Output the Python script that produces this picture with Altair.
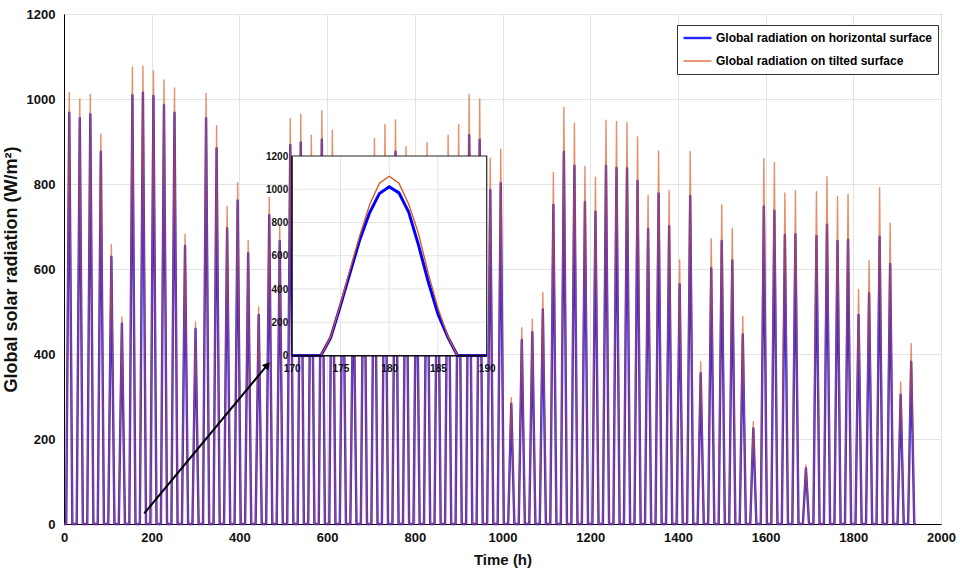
import altair as alt
import pandas as pd

# ---------------- data ----------------
# daily peak (solar noon, hour 12 of each day) of the two series, 81 days
horiz_peak = [968, 955, 964, 876, 629, 472, 1009, 1015, 1007, 986,
              968, 654, 459, 955, 884, 696, 761, 637, 492, 727,
              666, 892, 898, 850, 905, 862, 740, 610, 800, 845,
              860, 876, 828, 700, 838, 790, 852, 862, 915, 904,
              786, 802, 283, 433, 451, 505, 751, 876, 843, 758,
              735, 843, 838, 837, 807, 694, 778, 701, 564, 772,
              355, 602, 666, 620, 446, 225, 747, 737, 680, 682,
              131, 678, 704, 666, 669, 492, 543, 676, 612, 304,
              382]
tilt_peak = [1015, 1000, 1011, 918, 658, 487, 1075, 1078, 1066, 1045,
             1026, 682, 476, 1013, 937, 747, 803, 667, 511, 769,
             700, 954, 964, 915, 973, 927, 790, 650, 850, 907,
             940, 951, 888, 750, 897, 845, 915, 940, 1011, 1000,
             861, 882, 297, 462, 482, 544, 827, 980, 943, 842,
             816, 950, 947, 944, 911, 773, 878, 785, 621, 876,
             382, 671, 751, 696, 489, 241, 860, 850, 779, 784,
             139, 782, 817, 770, 776, 552, 620, 791, 708, 334,
             425]
day_hours = 24
last_dark_hour = 5     # last zero value before sunrise (from the inset)
noon_hour = 12
first_dark_hour = 19   # first zero value after sunset (from the inset)
last_hour = 1943

# inset: hours 170..190
inset_hours = list(range(170, 191))
inset_horiz = [0, 0, 0, 0, 108, 300, 500, 700, 860, 975, 1015,
               978, 862, 665, 445, 250, 112, 0, 0, 0, 0]
inset_tilt = [0, 0, 0, 0, 112, 310, 520, 725, 908, 1036, 1078,
              1036, 910, 735, 495, 285, 118, 0, 0, 0, 0]
inset_xticks = [170, 175, 180, 185, 190]
inset_yticks = [0, 200, 400, 600, 800, 1000, 1200]

main_xticks = list(range(0, 2001, 200))
main_yticks = list(range(0, 1201, 200))

arrow_start = (183, 25)
arrow_end = (462, 372)

S_H = "Global radiation on horizontal surface"
S_T = "Global radiation on tilted surface"

# ---------------- tables ----------------
rows = []
for name, peaks in ((S_H, horiz_peak), (S_T, tilt_peak)):
    rows.append({"hour": 0, "value": 0, "series": name})
    for d, p in enumerate(peaks):
        base = d * day_hours
        rows.append({"hour": base + last_dark_hour, "value": 0, "series": name})
        rows.append({"hour": base + noon_hour, "value": p, "series": name})
        rows.append({"hour": base + first_dark_hour, "value": 0, "series": name})
    rows.append({"hour": last_hour, "value": 0, "series": name})
main_df = pd.DataFrame(rows)

inset_df = pd.DataFrame({"hour": inset_hours, "horiz": inset_horiz, "tilt": inset_tilt})
box_df = pd.DataFrame({"x0": [inset_xticks[0]], "x1": [inset_xticks[-1]],
                       "y0": [inset_yticks[0]], "y1": [inset_yticks[-1]]})
vgrid_df = pd.DataFrame({"x": inset_xticks[1:-1], "y0": 0, "y1": inset_yticks[-1]})
hgrid_df = pd.DataFrame({"y": inset_yticks[1:-1], "x0": inset_xticks[0], "x1": inset_xticks[-1]})
arrow_df = pd.DataFrame({"x0": [arrow_start[0]], "y0": [arrow_start[1]],
                         "x1": [arrow_end[0]], "y1": [arrow_end[1]]})

# ---------------- styling ----------------
FONT = "Liberation Sans"
W, H = 877, 510
BLUE = "#0000ff"
ORANGE = "#d95319"
GRID = "#e3e3e3"

# inset placement (pixels inside the plot area)
IX0, IX1 = 227.7, 422.7
IY0, IY1 = 341.5, 142.0

xs_main = alt.Scale(domain=[0, 2000], nice=False, zero=False)
ys_main = alt.Scale(domain=[0, 1200], nice=False)
xs_in = alt.Scale(domain=[170, 190], range=[IX0, IX1], nice=False, zero=False)
ys_in = alt.Scale(domain=[0, 1200], range=[IY0, IY1], nice=False)

x_axis = alt.Axis(values=main_xticks, title="Time (h)", grid=True, gridColor=GRID,
                  ticks=False, labelPadding=7, labelFontSize=13, labelFontWeight="bold",
                  labelFont=FONT, titleFont=FONT, titleFontSize=15, titleFontWeight="bold",
                  titlePadding=8, domainColor="black", labelColor="#111", titleColor="#111",
                  format="d", labelFlush=False)
y_axis = alt.Axis(values=main_yticks, title="Global solar radiation (W/m\u00b2)", grid=True,
                  gridColor=GRID, ticks=False, labelPadding=9, labelFontSize=13,
                  labelFontWeight="bold", labelFont=FONT, titleFont=FONT, titleFontSize=18,
                  titleFontWeight="bold", titlePadding=6, domainColor="black",
                  labelColor="#111", titleColor="#111", format="d", labelFlush=False)

legend = alt.Legend(title=None, orient="none", legendX=613, legendY=11,
                    fillColor="white", strokeColor="#333", padding=5,
                    symbolType="stroke", symbolSize=784, clipHeight=16, rowPadding=7,
                    labelFont=FONT, labelFontSize=12, labelFontWeight="bold",
                    labelColor="#000", labelLimit=400, labelOffset=3)
color = alt.Color("series:N", scale=alt.Scale(domain=[S_H, S_T], range=[BLUE, ORANGE]),
                  legend=legend)
width_enc = alt.StrokeWidth("series:N", scale=alt.Scale(domain=[S_H, S_T], range=[2.4, 1.4]),
                            legend=legend)

base = alt.Chart(main_df).mark_line(strokeJoin="round").encode(
    x=alt.X("hour:Q", scale=xs_main, axis=x_axis),
    y=alt.Y("value:Q", scale=ys_main, axis=y_axis),
    color=color,
    strokeWidth=width_enc,
)
blue_line = base.transform_filter(alt.datum.series == S_H).mark_line(strokeJoin="round", opacity=0.85)
orange_line = base.transform_filter(alt.datum.series == S_T).mark_line(strokeJoin="round", opacity=0.65)

arrow_line = alt.Chart(arrow_df).mark_rule(color="black", strokeWidth=2).encode(
    x=alt.X("x0:Q", scale=xs_main), y=alt.Y("y0:Q", scale=ys_main),
    x2="x1:Q", y2="y1:Q")
arrow_head = alt.Chart(arrow_df).mark_point(shape="triangle", filled=True, color="black",
                                            size=70, angle=40, opacity=1).encode(
    x=alt.X("x1:Q", scale=xs_main), y=alt.Y("y1:Q", scale=ys_main))

main = alt.layer(blue_line, orange_line, arrow_line, arrow_head)

# ---------------- inset ----------------
in_x_axis = alt.Axis(values=inset_xticks, title=None, grid=False, ticks=False, orient="bottom",
                     offset=IY0 - H, labelPadding=8, labelFontSize=10, labelFontWeight="bold",
                     labelFont=FONT, domainColor="black", labelColor="#111", zindex=2,
                     format="d", labelFlush=False)
in_y_axis = alt.Axis(values=inset_yticks, title=None, grid=False, ticks=False, orient="left",
                     offset=-IX0, labelPadding=4, labelFontSize=10, labelFontWeight="bold",
                     labelFont=FONT, domainColor="black", labelColor="#111", zindex=2,
                     format="d", labelFlush=False)

inset_bg = alt.Chart(box_df).mark_rect(fill="white", stroke=None).encode(
    x=alt.X("x0:Q", scale=xs_in, axis=in_x_axis), x2="x1:Q",
    y=alt.Y("y0:Q", scale=ys_in, axis=in_y_axis), y2="y1:Q")
inset_vgrid = alt.Chart(vgrid_df).mark_rule(color=GRID, strokeWidth=1).encode(
    x=alt.X("x:Q", scale=xs_in), y=alt.Y("y0:Q", scale=ys_in), y2="y1:Q")
inset_hgrid = alt.Chart(hgrid_df).mark_rule(color=GRID, strokeWidth=1).encode(
    y=alt.Y("y:Q", scale=ys_in), x=alt.X("x0:Q", scale=xs_in), x2="x1:Q")
inset_blue = alt.Chart(inset_df).mark_line(color=BLUE, strokeWidth=3).encode(
    x=alt.X("hour:Q", scale=xs_in), y=alt.Y("horiz:Q", scale=ys_in))
inset_orange = alt.Chart(inset_df).mark_line(color=ORANGE, strokeWidth=1.3).encode(
    x=alt.X("hour:Q", scale=xs_in), y=alt.Y("tilt:Q", scale=ys_in))
inset_box = alt.Chart(box_df).mark_rect(fill=None, stroke="#222", strokeWidth=1.2).encode(
    x=alt.X("x0:Q", scale=xs_in), x2="x1:Q",
    y=alt.Y("y0:Q", scale=ys_in), y2="y1:Q")

inset = alt.layer(inset_bg, inset_vgrid, inset_hgrid, inset_blue, inset_orange, inset_box)

chart = alt.layer(main, inset).resolve_scale(x="independent", y="independent").properties(
    width=W, height=H,
    autosize=alt.AutoSizeParams(type="none"),
    padding={"left": 64, "top": 14, "right": 19, "bottom": 62},
    background="white",
).configure_view(stroke="black", strokeWidth=1)

chart.save("out.html", embed_options={"renderer": "svg", "actions": False})
